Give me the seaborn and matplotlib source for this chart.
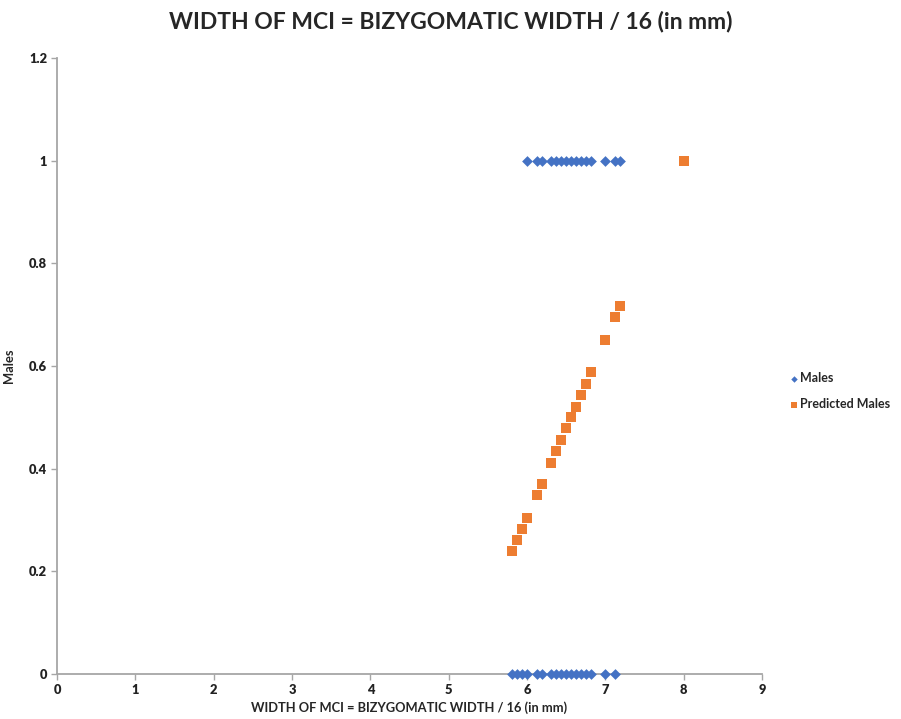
import matplotlib

matplotlib.use("Agg")
import matplotlib.pyplot as plt
import pandas as pd
import seaborn as sns

# Observed sex (1 = male, 0 = female) against width of MCI
males_width = [
    6.0, 6.125, 6.1875, 6.3125, 6.375, 6.4375, 6.5, 6.5625, 6.625, 6.6875,
    6.75, 6.8125, 7.0, 7.125, 7.1875,
    5.8125, 5.875, 5.9375, 6.0, 6.125, 6.1875, 6.3125, 6.375, 6.4375, 6.5,
    6.5625, 6.625, 6.6875, 6.75, 6.8125, 7.0, 7.125,
]
males = [1] * 15 + [0] * 17

# Predicted values from the regression
pred_width = [
    5.8125, 5.875, 5.9375, 6.0, 6.125, 6.1875, 6.3125, 6.375, 6.4375, 6.5,
    6.5625, 6.625, 6.6875, 6.75, 6.8125, 7.0, 7.125, 7.1875, 8.0,
]
pred_males = [
    0.239, 0.262, 0.283, 0.304, 0.348, 0.370, 0.412, 0.434, 0.456, 0.479,
    0.500, 0.521, 0.543, 0.565, 0.588, 0.651, 0.695, 0.717, 1.0,
]

x_ticks = list(range(0, 10))
y_ticks = [0, 0.2, 0.4, 0.6, 0.8, 1, 1.2]
y_labels = ["0", "0.2", "0.4", "0.6", "0.8", "1", "1.2"]

df = pd.concat(
    [
        pd.DataFrame({"width": males_width, "value": males, "series": "Males"}),
        pd.DataFrame(
            {"width": pred_width, "value": pred_males, "series": "Predicted Males"}
        ),
    ],
    ignore_index=True,
)

sns.set_style("white")
plt.rcParams["font.family"] = ["Lato", "DejaVu Sans"]

fig = plt.figure(figsize=(9.01, 7.19), dpi=100)
ax = fig.add_axes([0.0633, 0.0626, 0.7824, 0.8567])

palette = {"Males": "#4472C4", "Predicted Males": "#ED7D31"}
markers = {"Males": "D", "Predicted Males": "s"}
sizes = {"Males": 30, "Predicted Males": 62}

for name, grp in df.groupby("series"):
    sns.scatterplot(
        data=grp,
        x="width",
        y="value",
        color=palette[name],
        marker=markers[name],
        s=sizes[name],
        linewidth=0,
        label=name,
        clip_on=False,
        zorder=3,
        ax=ax,
    )

ax.set_xlim(0, 9)
ax.set_ylim(0, 1.2)
ax.set_xticks(x_ticks)
ax.set_yticks(y_ticks)
ax.set_yticklabels(y_labels)
for lbl in ax.get_xticklabels() + ax.get_yticklabels():
    lbl.set_fontweight("heavy")
    lbl.set_fontsize(9.3)
    lbl.set_color("#222222")

for side in ["top", "right"]:
    ax.spines[side].set_visible(False)
for side in ["left", "bottom"]:
    ax.spines[side].set_color("#a6a6a6")
    ax.spines[side].set_linewidth(1.3)
ax.tick_params(axis="both", length=4, width=1, color="#a6a6a6", direction="out",
               bottom=True, left=True, pad=3)

ax.set_xlabel("WIDTH OF MCI = BIZYGOMATIC WIDTH / 16 (in mm)", fontsize=9.3,
              fontweight="bold", labelpad=4)
ax.set_ylabel("Males", fontsize=9.3, fontweight="bold", labelpad=10)
fig.suptitle("WIDTH OF MCI = BIZYGOMATIC WIDTH / 16 (in mm)", fontsize=16.5,
             fontweight="bold", x=0.5, y=0.985)

leg = ax.legend(
    loc="center left",
    bbox_to_anchor=(0.862, 0.456),
    bbox_transform=fig.transFigure,
    frameon=False,
    handletextpad=0.0,
    handlelength=1.0,
    markerscale=0.6,
    labelspacing=1.1,
    prop={"weight": "bold", "size": 9},
)

fig.savefig("out.png", dpi=100)
plt.close(fig)
